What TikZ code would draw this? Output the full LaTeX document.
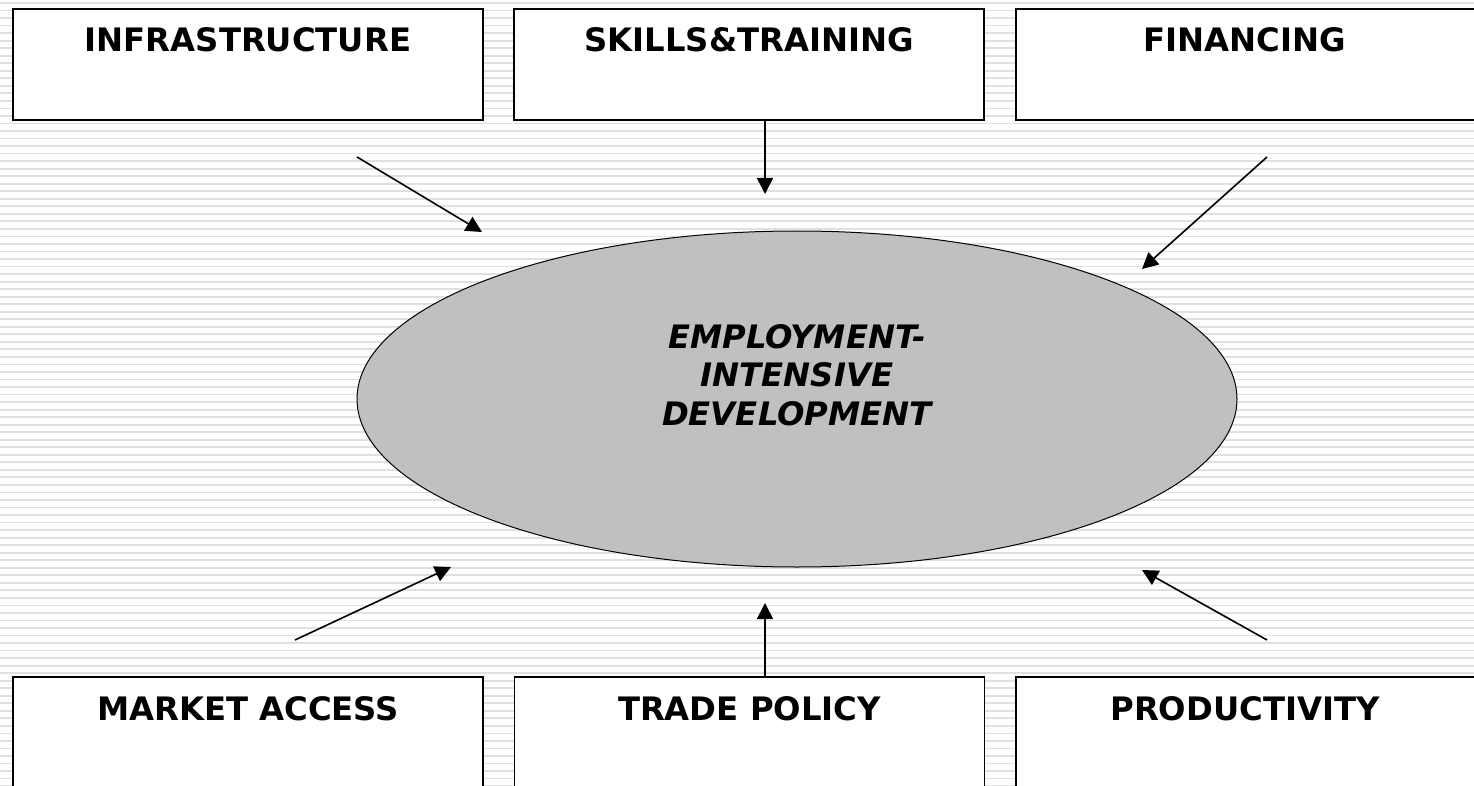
\documentclass[tikz,border=0pt]{standalone}
\usepackage{fontspec}
\setmainfont{DejaVu Sans}
\usetikzlibrary{shapes.geometric,arrows.meta}
\definecolor{stripecol}{HTML}{E0E0E0}
\definecolor{ellfill}{HTML}{C0C0C0}
\tikzset{
  stripe/.style={draw=stripecol, line width=1.8pt},
  boxnode/.style={draw=black, fill=white, line width=1.5pt, minimum width=470pt, inner sep=0pt, rectangle},
  lbl/.style={font=\bfseries\fontsize{32.3}{38.5}\selectfont, anchor=base, inner sep=0pt},
  arr/.style={draw=black, line width=1.6pt, -{Triangle[length=16pt,width=16pt]}},
}
\begin{document}
\begin{tikzpicture}[x=1pt,y=-1pt]
\useasboundingbox (0,0) rectangle (1474,786);
\clip (0,0) rectangle (1474,786);
\fill[white] (0,0) rectangle (1474,786);
\foreach \i in {0,...,104} {
  \draw[stripe] (0,{3+7.53*\i}) -- (1474,{3+7.53*\i});
}
% top boxes
\node[boxnode, minimum height=111pt] (b1) at (248,64.5) {};
\node[boxnode, minimum height=111pt] (b2) at (749,64.5) {};
\node[boxnode, minimum height=111pt] (b3) at (1251,64.5) {};
% bottom boxes
\node[boxnode, minimum height=140pt] (b4) at (248,747) {};
\node[boxnode, minimum height=140pt] (b5) at (749.5,747) {};
\node[boxnode, minimum height=140pt] (b6) at (1251,747) {};
% labels
\node[lbl] (t1) at (248,52) {INFRASTRUCTURE};
\node[lbl] (t2) at (749,52) {SKILLS\&TRAINING};
\node[lbl] (t3) at (1245,52) {FINANCING};
\node[lbl] (t4) at (248,720) {MARKET ACCESS};
\node[lbl] (t5) at (749.5,720) {TRADE POLICY};
\node[lbl] (t6) at (1245,720) {PRODUCTIVITY};
% ellipse
\node[ellipse, draw=black, fill=ellfill, line width=1pt, minimum width=880pt, minimum height=336pt, inner sep=0pt] (e) at (797,399) {};
\node[font=\bfseries\itshape\fontsize{32.3}{38.5}\selectfont, align=center, anchor=base, inner sep=0pt] (et) at (797,425) {EMPLOYMENT-\\INTENSIVE\\DEVELOPMENT};
% arrow coordinates
\coordinate (a1s) at (357,157); \coordinate (a1e) at (482,232);
\coordinate (a2s) at (765,120); \coordinate (a2e) at (765,194);
\coordinate (a3s) at (1267,157); \coordinate (a3e) at (1142,269);
\coordinate (a4s) at (295,640); \coordinate (a4e) at (451,567);
\coordinate (a5s) at (765,677); \coordinate (a5e) at (765,603);
\coordinate (a6s) at (1267,640); \coordinate (a6e) at (1142,570);
\draw[arr] (a1s) -- (a1e);
\draw[arr] (a2s) -- (a2e);
\draw[arr] (a3s) -- (a3e);
\draw[arr] (a4s) -- (a4e);
\draw[arr] (a5s) -- (a5e);
\draw[arr] (a6s) -- (a6e);
\end{tikzpicture}
\end{document}
